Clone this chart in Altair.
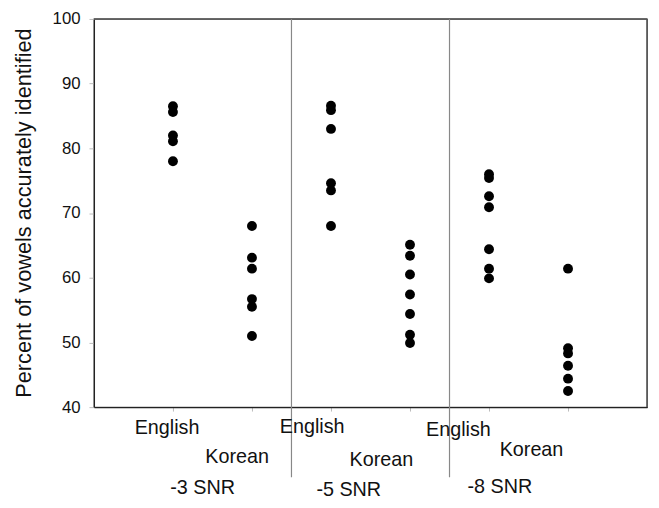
import altair as alt
import pandas as pd

# ---- data ----
conditions = ["-3 SNR", "-5 SNR", "-8 SNR"]
languages = ["English", "Korean"]
eng_m3 = [86.5, 85.6, 82.0, 81.1, 78.0]
kor_m3 = [68.0, 63.1, 61.4, 56.7, 55.5, 51.0]
eng_m5 = [86.6, 85.9, 83.0, 74.6, 73.5, 68.0]
kor_m5 = [65.1, 63.4, 60.5, 57.4, 54.4, 51.2, 49.9]
eng_m8 = [76.0, 75.4, 72.6, 70.9, 64.4, 61.4, 59.9]
kor_m8 = [61.4, 49.1, 48.3, 46.4, 44.4, 42.5]
y_ticks = [40, 50, 60, 70, 80, 90, 100]
x_domain = [0, 7]
y_domain = [40, 100]

groups = [eng_m3, kor_m3, eng_m5, kor_m5, eng_m8, kor_m8]

rows = []
for gi, vals in enumerate(groups):
    for v in vals:
        rows.append({"pos": gi + 1, "cond": conditions[gi // 2],
                     "lang": languages[gi % 2], "value": v})
points_df = pd.DataFrame(rows)

lab_rows = []
for gi in range(len(groups)):
    lab_rows.append({"pos": gi + 1, "label": languages[gi % 2]})
lab_df = pd.DataFrame(lab_rows)
cond_df = pd.DataFrame({"pos": [1.5, 3.5, 5.5], "label": conditions})
div_df = pd.DataFrame({"pos": [2.5, 4.5]})
edge_x_df = pd.DataFrame({"pos": [x_domain[1]]})
edge_top_df = pd.DataFrame({"a": [x_domain[0]], "b": [x_domain[1]]})

FONT = "Liberation Sans"
xscale = alt.Scale(domain=x_domain, nice=False, zero=False)
yscale = alt.Scale(domain=y_domain, nice=False, zero=False)
PLOT_H = 393

points = alt.Chart(points_df).mark_circle(color="black", opacity=1, size=100).encode(
    x=alt.X("pos:Q", scale=xscale,
            axis=alt.Axis(values=[1, 2, 3, 4, 5, 6], labels=False, title=None,
                          grid=False, tickSize=4, tickColor="#bbbbbb",
                          domainColor="#222222", domainWidth=1.2)),
    y=alt.Y("value:Q", scale=yscale,
            axis=alt.Axis(values=y_ticks, grid=False, tickSize=5,
                          tickColor="#bbbbbb", labelPadding=9,
                          labelFont=FONT, labelFontSize=17, labelColor="#111111",
                          domainColor="#222222", domainWidth=1.2,
                          title="Percent of vowels accurately identified",
                          titleFont=FONT, titleFontSize=22, titleFontWeight="normal",
                          titleColor="#111111", titleAngle=-90, titleX=-71, titleY=196,
                          titleAlign="center", titleBaseline="middle")),
)

# frame edges (top and right), drawn the same way as the dividers
right_edge = alt.Chart(edge_x_df).mark_rule(color="#555555", strokeWidth=1.5).encode(
    x=alt.X("pos:Q", scale=xscale), y=alt.value(0), y2=alt.value(PLOT_H))
top_edge = alt.Chart(edge_top_df).mark_rule(color="#555555", strokeWidth=1.5).encode(
    x=alt.X("a:Q", scale=xscale), x2="b:Q", y=alt.value(0))

dividers = alt.Chart(div_df).mark_rule(color="#888888", strokeWidth=1.2).encode(
    x=alt.X("pos:Q", scale=xscale),
    y=alt.value(0),
    y2=alt.value(464),
)

# category labels, hand-placed offsets as in the original
eng_dx = [-6, -19, -31]
eng_y = [414, 413, 416]
kor_dx = [-15, -29, -37]
kor_y = [444, 447, 436]
cond_dx = [-10, -22, -29]
cond_y = [475, 477, 474]

layers = [points, top_edge, right_edge, dividers]
for i in range(3):
    e = alt.Chart(lab_df[lab_df.pos == 2 * i + 1]).mark_text(
        font=FONT, fontSize=20, color="#111111", dx=eng_dx[i], baseline="middle"
    ).encode(x=alt.X("pos:Q", scale=xscale), y=alt.value(eng_y[i]), text="label:N")
    k = alt.Chart(lab_df[lab_df.pos == 2 * i + 2]).mark_text(
        font=FONT, fontSize=20, color="#111111", dx=kor_dx[i], baseline="middle"
    ).encode(x=alt.X("pos:Q", scale=xscale), y=alt.value(kor_y[i]), text="label:N")
    c = alt.Chart(cond_df[cond_df.label == conditions[i]]).mark_text(
        font=FONT, fontSize=20, color="#111111", dx=cond_dx[i], baseline="middle"
    ).encode(x=alt.X("pos:Q", scale=xscale), y=alt.value(cond_y[i]), text="label:N")
    layers += [e, k, c]

chart = alt.layer(*layers).properties(
    width=560, height=PLOT_H, autosize="none",
    padding={"left": 87, "top": 8, "right": 4, "bottom": 95},
).configure_view(stroke="#555555", strokeWidth=1.3)

chart.save("out.html", embed_options={"renderer": "svg", "actions": False})
